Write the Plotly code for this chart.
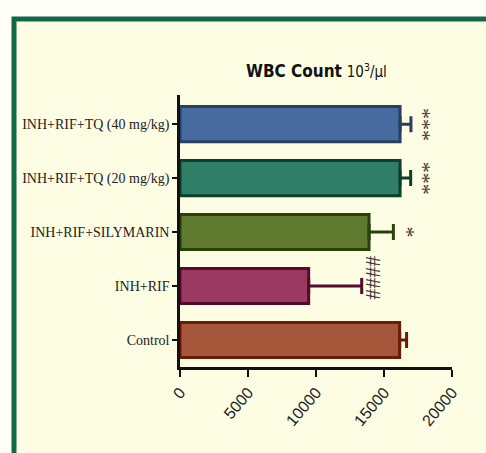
import plotly.graph_objects as go

# Group data: mean WBC count with SD (upper error only)
groups = ["Control", "INH+RIF", "INH+RIF+SILYMARIN",
          "INH+RIF+TQ (20 mg/kg)", "INH+RIF+TQ (40 mg/kg)"]
means = [16150, 9460, 13900, 16180, 16180]
sds = [510, 3900, 1790, 780, 800]
marks = ["", "####", "*", "***", "***"]
xticks = [0, 5000, 10000, 15000, 20000]

fills = ["#a5573b", "#9b3a61", "#5d7a2f", "#2f7f68", "#476a9f"]
edges = ["#6b1b06", "#560b2e", "#2b410b", "#0e3f2b", "#283f62"]

W, H = 486, 453
L, R, T, B = 180, 34, 95, 86
pw, ph = W - L - R, H - T - B


def px_x(p):
    return (p - L) / pw


def px_y(p):
    return (H - B - p) / ph


fig = go.Figure()
for g, m, s, f, e in zip(groups, means, sds, fills, edges):
    fig.add_trace(go.Bar(
        y=[g], x=[m], orientation="h", width=0.65,
        marker=dict(color=f, line=dict(color=e, width=3)),
        error_x=dict(type="data", array=[s], arrayminus=[0], symmetric=False,
                     color=e, thickness=3, width=8),
        showlegend=False, hoverinfo="skip",
    ))

# significance marks beyond each error bar
x_per_px = 20000 / pw
for g, m, s, t in zip(groups, means, sds, marks):
    if not t:
        continue
    off = {"####": 10, "*": 19, "***": 17}[t]
    fig.add_annotation(
        x=m + s + off * x_per_px, y=g, xref="x", yref="y",
        text=t, showarrow=False, textangle=-90,
        yshift=8 if t == "####" else 0,
        font=dict(family="Liberation Serif", size=22, color="#3a3a3a"),
    )

# title
fig.add_annotation(
    x=px_x(316), y=px_y(59), xref="paper", yref="paper",
    text="<b>WBC Count</b> <span style='font-size:15px'>10<sup>3</sup>/µl</span>",
    showarrow=False,
    font=dict(family="DejaVu Sans Condensed, Liberation Sans, Arial", size=17, color="#111111"),
)

# green frame
fig.add_shape(
    type="rect", xref="paper", yref="paper", layer="below",
    x0=px_x(14), x1=px_x(530), y0=px_y(500), y1=px_y(19),
    line=dict(color="#11694a", width=5), fillcolor="#fdfde4",
)

fig.update_layout(
    width=W, height=H,
    margin=dict(l=L, r=R, t=T, b=B),
    paper_bgcolor="#fefef6", plot_bgcolor="rgba(0,0,0,0)",
    barmode="overlay",
    xaxis=dict(
        range=[0, 20000], tickvals=xticks, ticktext=[str(v) for v in xticks],
        showgrid=False, zeroline=False, showline=True, linecolor="#111111", linewidth=2.5,
        ticks="outside", ticklen=7, tickwidth=2, tickcolor="#111111",
        tickangle=-50,
        tickfont=dict(family="Liberation Sans, Arial", size=16, color="#222222"),
    ),
    yaxis=dict(
        type="category", categoryorder="array", categoryarray=groups,
        range=[-0.5, 4.54],
        showgrid=False, zeroline=False, showline=True, linecolor="#111111", linewidth=2.5,
        ticks="outside", ticklen=5, tickwidth=2, tickcolor="#111111",
        tickfont=dict(family="Liberation Serif, Times New Roman", size=14, color="#222222"),
    ),
)

fig.write_html("out.html")
